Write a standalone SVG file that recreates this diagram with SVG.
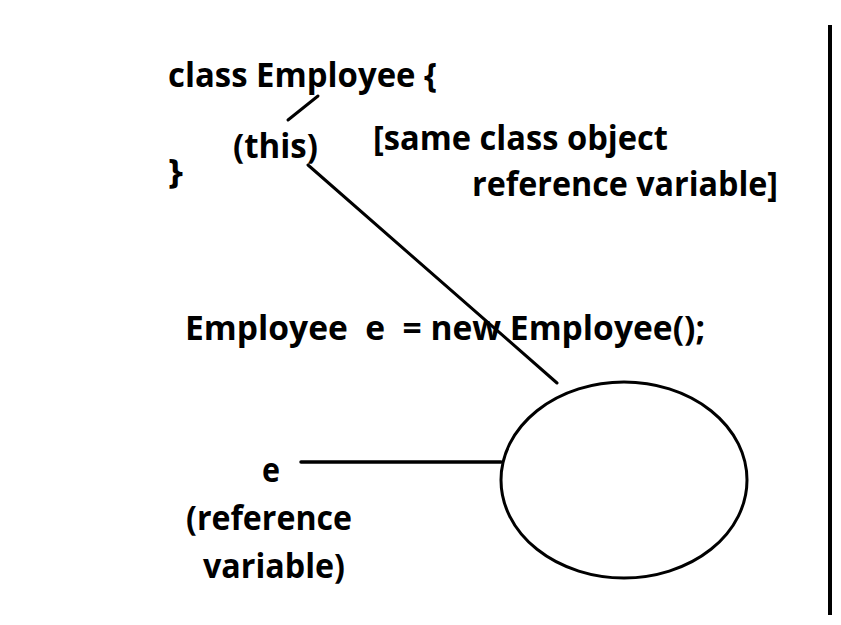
<svg xmlns="http://www.w3.org/2000/svg" width="841" height="625" viewBox="0 0 841 625">
<style>
text{font-family:"Open Sans","Noto Sans","Liberation Sans",sans-serif;font-weight:bold;font-size:34px;fill:#000;white-space:pre}
.ln{stroke:#000;stroke-width:3;fill:none;stroke-linecap:round}
</style>
<rect width="841" height="625" fill="#fff"/>
<g id="class-decl">
<text x="168" y="87" textLength="269" lengthAdjust="spacingAndGlyphs">class Employee {</text>
<text x="168" y="183" textLength="15" lengthAdjust="spacingAndGlyphs">}</text>
</g>
<g id="this-label">
<text x="233" y="158" textLength="85" lengthAdjust="spacingAndGlyphs">(this)</text>
</g>
<g id="note">
<text x="373" y="150" textLength="295" lengthAdjust="spacingAndGlyphs">[same class object</text>
<text x="472" y="196" textLength="306" lengthAdjust="spacingAndGlyphs">reference variable]</text>
</g>
<g id="statement">
<text x="185" y="340" textLength="520" lengthAdjust="spacingAndGlyphs">Employee  e  = new Employee();</text>
</g>
<g id="ref-var">
<text x="262" y="482" textLength="18" lengthAdjust="spacingAndGlyphs">e</text>
<text x="186" y="530" textLength="166" lengthAdjust="spacingAndGlyphs">(reference</text>
<text x="203" y="578" textLength="142" lengthAdjust="spacingAndGlyphs">variable)</text>
</g>
<g id="object">
<ellipse cx="624" cy="480" rx="123" ry="98" class="ln"/>
</g>
<g id="connectors">
<line x1="288" y1="120" x2="318" y2="96" class="ln"/>
<line x1="308" y1="165" x2="557" y2="383" class="ln"/>
<line x1="301" y1="462" x2="501" y2="462" class="ln" style="stroke-width:3.5"/>
<line x1="830" y1="25" x2="830" y2="615" class="ln" style="stroke-width:4;stroke-linecap:butt"/>
</g>
</svg>
